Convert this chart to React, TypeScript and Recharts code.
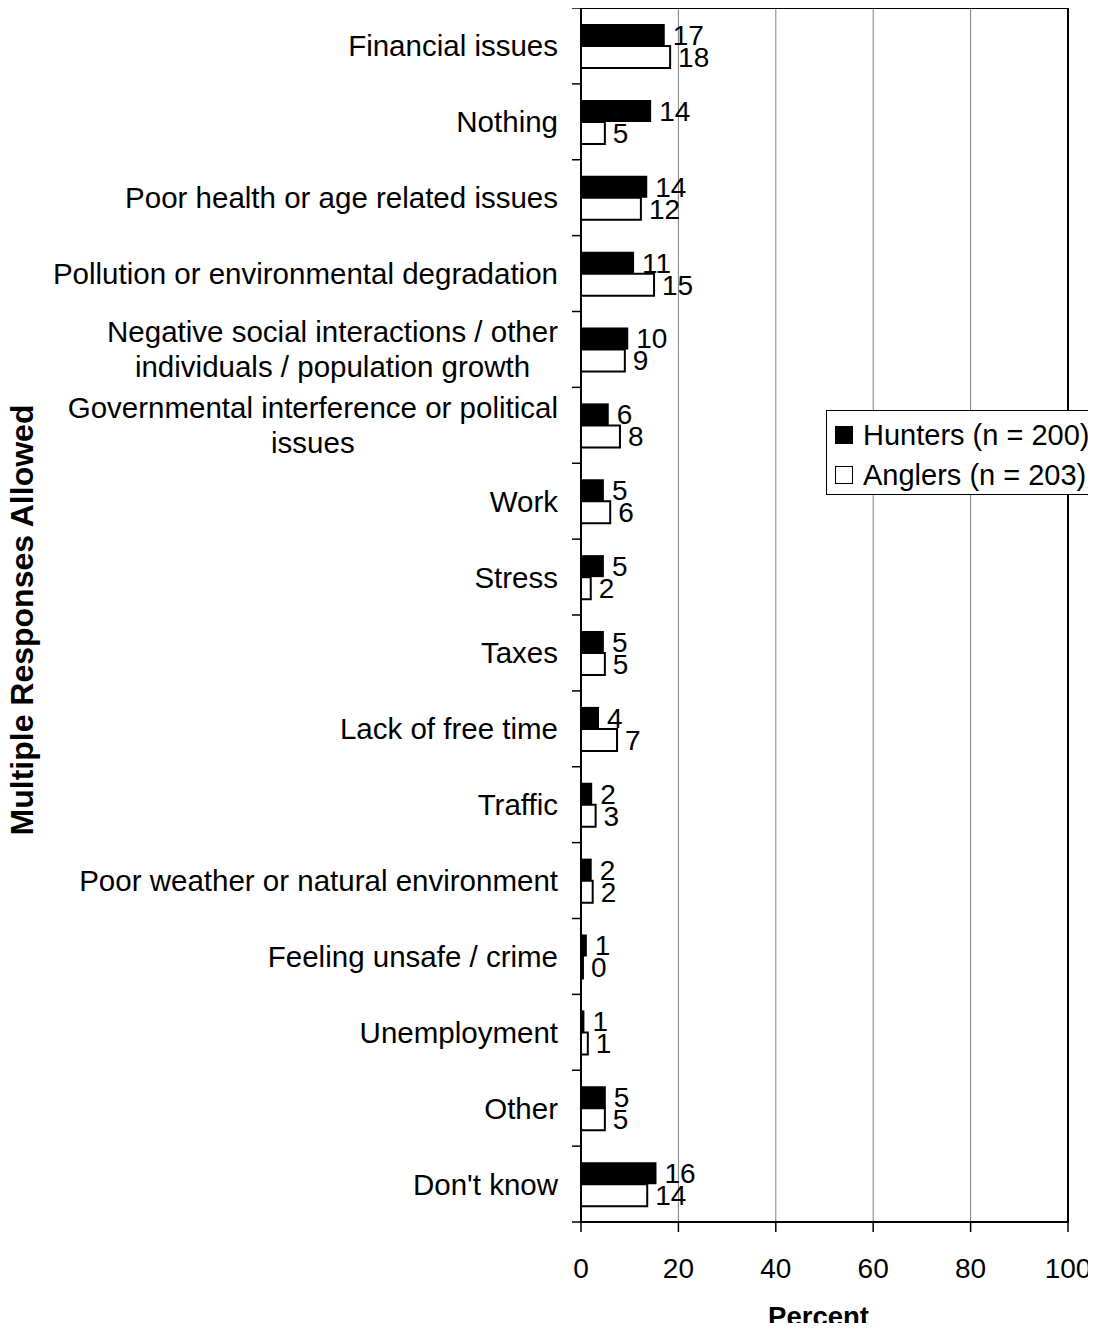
import React from "react";
import { BarChart, Bar, XAxis, YAxis, CartesianGrid, Legend, LabelList, Label, ReferenceArea } from "recharts";

const categories: string[][] = [
  ["Financial issues"],
  ["Nothing"],
  ["Poor health or age related issues"],
  ["Pollution or environmental degradation"],
  ["Negative social interactions / other", "individuals / population growth"],
  ["Governmental interference or political", "issues"],
  ["Work"],
  ["Stress"],
  ["Taxes"],
  ["Lack of free time"],
  ["Traffic"],
  ["Poor weather or natural environment"],
  ["Feeling unsafe / crime"],
  ["Unemployment"],
  ["Other"],
  ["Don't know"],
];

const hunters = [17.2, 14.4, 13.6, 10.9, 9.7, 5.7, 4.7, 4.7, 4.7, 3.7, 2.3, 2.2, 1.2, 0.7, 5.1, 15.5];
const anglers = [18.3, 4.9, 12.3, 15.0, 9.0, 8.0, 6.0, 2.0, 4.9, 7.4, 3.0, 2.4, 0.4, 1.4, 4.9, 13.6];

const xTicks = [0, 20, 40, 60, 80, 100];
const seriesNames = ["Hunters (n = 200)", "Anglers (n = 203)"];

const data = categories.map((c, i) => ({
  name: c.join(" "),
  lines: c,
  hunters: hunters[i],
  anglers: anglers[i],
}));

const FONT = "'Liberation Sans', Arial, Helvetica, sans-serif";
const CAT_SIZE = 29.5;

let ctx: CanvasRenderingContext2D | null = null;
function measure(t: string): number {
  if (!ctx) {
    const c = document.createElement("canvas");
    ctx = c.getContext("2d");
  }
  if (!ctx) return t.length * CAT_SIZE * 0.5;
  ctx.font = `${CAT_SIZE}px ${FONT}`;
  return ctx.measureText(t).width;
}

const CategoryTick = (props: any) => {
  const { x, y, payload, index } = props;
  const lines: string[] = data[index] ? data[index].lines : [String(payload.value)];
  const half = payload && typeof payload.offset === "number" ? payload.offset : 0;
  const lineH = 35;
  const startY = y - ((lines.length - 1) * lineH) / 2;
  const blockW = Math.max(...lines.map(measure));
  const lx1 = x + 14;
  const lx2 = x + 23;
  return (
    <g>
      {lines.map((l, i) =>
        lines.length === 1 ? (
          <text key={i} x={x} y={startY + i * lineH} dy="0.355em" textAnchor="end" fontSize={CAT_SIZE} fontFamily={FONT} fill="#000">
            {l}
          </text>
        ) : (
          <text key={i} x={x - blockW / 2} y={startY + i * lineH} dy="0.355em" textAnchor="middle" fontSize={CAT_SIZE} fontFamily={FONT} fill="#000">
            {l}
          </text>
        )
      )}
      {half > 0 && <line x1={lx1} x2={lx2} y1={y - half} y2={y - half} stroke="#000" strokeWidth={1.5} />}
      {half > 0 && index === data.length - 1 && (
        <line x1={lx1} x2={lx2} y1={y + half} y2={y + half} stroke="#000" strokeWidth={1.5} />
      )}
    </g>
  );
};

const LegendBox = () => (
  <div
    style={{
      border: "1px solid #000",
      width: 264,
      height: 83,
      background: "#fff",
      fontFamily: FONT,
      fontSize: 29,
      color: "#000",
      boxSizing: "content-box",
    }}
  >
    {seriesNames.map((n, i) => (
      <div key={n} style={{ display: "flex", alignItems: "center", height: 40, marginTop: i === 0 ? 4 : 0, marginLeft: 8, whiteSpace: "nowrap" }}>
        <span
          style={{
            display: "inline-block",
            width: 16,
            height: 16,
            border: "1px solid #000",
            background: i === 0 ? "#000" : "#fff",
            marginRight: 10,
          }}
        />
        <span>{n}</span>
      </div>
    ))}
  </div>
);

const YTitle = (props: any) => {
  const vb = props.viewBox || { x: 0, y: 0, width: 0, height: 0 };
  const cx = vb.x + 22;
  const cy = vb.y + vb.height / 2 + 5;
  return (
    <text x={cx} y={cy} transform={`rotate(-90, ${cx}, ${cy})`} textAnchor="middle" dominantBaseline="central" fontSize={32} fontWeight="bold" fontFamily={FONT} fill="#000">
      Multiple Responses Allowed
    </text>
  );
};

const XTitle = (props: any) => {
  const vb = props.viewBox || { x: 0, y: 0, width: 0, height: 0 };
  const cx = vb.x + vb.width / 2 - 6;
  const cy = vb.y + 104;
  return (
    <text x={cx} y={cy} textAnchor="middle" fontSize={27.5} fontWeight="bold" fontFamily={FONT} fill="#000">
      Percent
    </text>
  );
};

export default function App() {
  return (
    <div style={{ margin: -8, width: 1096, height: 1331, overflow: "hidden", position: "relative" }}>
      <BarChart
        width={1096}
        height={1331}
        data={data}
        layout="vertical"
        margin={{ top: 8, right: 28, left: 0, bottom: 0 }}
        barGap={0}
      >
        <CartesianGrid horizontal={false} stroke="#808080" strokeWidth={1} />
        <XAxis
          type="number"
          domain={[0, 100]}
          ticks={xTicks}
          height={109}
          tickSize={10}
          tickMargin={26}
          axisLine={{ stroke: "#000", strokeWidth: 2 }}
          tickLine={{ stroke: "#000", strokeWidth: 1.5 }}
          tick={{ fontSize: 28, fontFamily: FONT, fill: "#000" }}
          interval={0}
        >
          <Label content={<XTitle />} />
        </XAxis>
        <YAxis
          type="category"
          dataKey="name"
          width={581}
          tickSize={9}
          tickMargin={14}
          tickLine={false}
          axisLine={{ stroke: "#000", strokeWidth: 2 }}
          tick={<CategoryTick />}
          interval={0}
        >
          <Label content={<YTitle />} />
        </YAxis>
        <ReferenceArea x1={0} x2={100} fill="none" fillOpacity={0} stroke="#000" strokeWidth={2} ifOverflow="visible" />
        <Legend
          layout="horizontal"
          verticalAlign="middle"
          align="center"
          content={<LegendBox />}
          wrapperStyle={{ left: 826, top: 410, width: 266 }}
        />
        <Bar dataKey="hunters" name={seriesNames[0]} fill="#000" barSize={22} isAnimationActive={false}>
          <LabelList dataKey="hunters" position="right" offset={8} formatter={(v: any) => Math.round(v)} style={{ fontSize: 28, fontFamily: FONT, fill: "#000" }} />
        </Bar>
        <Bar dataKey="anglers" name={seriesNames[1]} fill="#fff" stroke="#000" strokeWidth={2} barSize={22} isAnimationActive={false}>
          <LabelList dataKey="anglers" position="right" offset={8} formatter={(v: any) => Math.round(v)} style={{ fontSize: 28, fontFamily: FONT, fill: "#000" }} />
        </Bar>
      </BarChart>
    </div>
  );
}
